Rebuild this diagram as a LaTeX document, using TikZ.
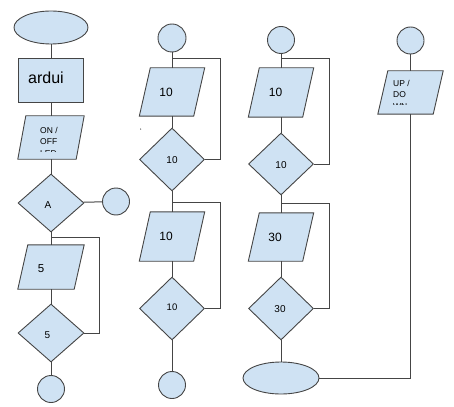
\documentclass[tikz,border=0pt]{standalone}
\usepackage{fontspec}
\setmainfont{Liberation Sans}
\usetikzlibrary{shapes.geometric}
\pgfdeclarelayer{background}
\pgfsetlayers{background,main}
\definecolor{shapefill}{HTML}{CFE2F3}
\definecolor{linecol}{HTML}{454545}
\tikzset{
  base/.style={draw=linecol, fill=shapefill, line width=0.9pt, inner sep=0pt},
  terminal/.style={base, ellipse},
  conn/.style={base, circle, minimum size=27pt},
  procbox/.style={base, rectangle},
  decide/.style={base, diamond, minimum width=65pt},
  iobox/.style={rectangle, inner sep=0pt, minimum width=65pt},
  link/.style={draw=linecol, line width=1pt},
  big/.style={font=\fontsize{12}{14}\selectfont},
  small/.style={font=\fontsize{10}{12}\selectfont},
  tiny/.style={font=\fontsize{8.5}{11.5}\selectfont, inner sep=0pt, align=left, anchor=north west},
}
\newcommand\ioshape[2]{\draw[base] (#1.south west) -- ([xshift=-#2]#1.south east) -- (#1.north east) -- ([xshift=#2]#1.north west) -- cycle;}
\begin{document}
\begin{tikzpicture}[x=1pt,y=-1pt]
\useasboundingbox (0,0) rectangle (454,406);
% column 1
\node[terminal, minimum width=74pt, minimum height=33pt] (e1) at (51,27.5) {};
\node[procbox, minimum width=65pt, minimum height=44pt,
  label={[font=\fontsize{16}{18}\selectfont, xshift=-5pt, yshift=2pt]center:ardui}] (r1) at (51,80) {};
\node[iobox, minimum width=66pt, minimum height=43pt] (p1) at (51,137.5) {};
\node[decide, minimum width=66pt, minimum height=58pt,
  label={[small, xshift=-3pt, yshift=-2pt]center:A}] (d1) at (51,203) {};
\node[conn] (c1) at (116,201.5) {};
\node[iobox, minimum width=66pt, minimum height=44pt,
  label={[font=\fontsize{11.5}{13}\selectfont, xshift=-10pt, yshift=-2pt]center:5}] (p2) at (51,267) {};
\node[decide, minimum width=66pt, minimum height=58pt,
  label={[small, xshift=-3.5pt, yshift=-2pt]center:5}] (d2) at (51,333) {};
\node[conn] (c2) at (51,389) {};
% column 2
\node[conn, minimum size=28pt] (c3) at (172,38) {};
\node[iobox, minimum height=48pt, label={[big, xshift=-6pt]center:10}] (p3) at (172,92) {};
\node[decide, minimum height=63pt, label={[small, yshift=-0.5pt]center:10}] (d3) at (172,159.5) {};
\node[iobox, minimum height=49pt, label={[big, xshift=-6pt, yshift=0.5pt]center:10}] (p4) at (172,236.5) {};
\node[decide, minimum height=63pt, label={[font=\fontsize{9.5}{11}\selectfont, yshift=1.5pt]center:10}] (d4) at (172,308.5) {};
\node[conn] (c4) at (172,385) {};
\node[font=\fontsize{7}{8}\selectfont, inner sep=0pt] (tick) at (141,131) {`};
% column 3
\node[conn] (c5) at (281,40) {};
\node[iobox, minimum height=49pt, label={[big, xshift=-5.5pt]center:10}] (p5) at (281,92.5) {};
\node[decide, minimum height=62pt, label={[small, yshift=-1pt]center:10}] (d5) at (281,164) {};
\node[iobox, minimum height=48pt, label={[big, xshift=-6pt]center:30}] (p6) at (281,237) {};
\node[decide, minimum height=63pt, label={[small, xshift=-1pt, yshift=-0.5pt]center:30}] (d6) at (281,308.5) {};
\node[terminal, minimum width=76pt, minimum height=32pt] (e2) at (281,378) {};
% column 4
\node[conn] (c6) at (410.5,40.5) {};
\node[iobox, minimum height=43pt] (p7) at (410.5,92.5) {};
% parallelogram outlines
\begin{pgfonlayer}{background}
\ioshape{p1}{8pt}
\ioshape{p2}{10pt}
\ioshape{p3}{11pt}
\ioshape{p4}{11pt}
\ioshape{p5}{11pt}
\ioshape{p6}{11pt}
\ioshape{p7}{10pt}
\end{pgfonlayer}
% clipped texts
\begin{scope}
\clip (20,118) rectangle (84,151);
\node[tiny] (t1) at (40,127) {ON /\\OFF\\LED};
\end{scope}
\begin{scope}
\clip (385,73) rectangle (440,104.5);
\node[tiny] (t2) at (393,80) {UP /\\DO\\WN};
\end{scope}
% loop corners
\coordinate (j1) at (51,237);  \coordinate (k1) at (99,237);
\coordinate (j2) at (172,59);  \coordinate (k2) at (220,59);
\coordinate (j3) at (172,202); \coordinate (k3) at (220,202);
\coordinate (j4) at (281,59);  \coordinate (k4) at (329,59);
\coordinate (j5) at (281,203); \coordinate (k5) at (329,203);
% connectors
\draw[link] (e1) -- (r1);
\draw[link] (r1) -- (p1);
\draw[link] (p1) -- (d1);
\draw[link] (d1) -- (c1);
\draw[link] (d1) -- (p2);
\draw[link] (p2) -- (d2);
\draw[link] (d2) -- (c2);
\draw[link] (j1) -- (k1) |- (d2.east);
\draw[link] (c3) -- (p3);
\draw[link] (p3) -- (d3);
\draw[link] (d3) -- (p4);
\draw[link] (p4) -- (d4);
\draw[link] (d4) -- (c4);
\draw[link] (j2) -- (k2) |- (d3.east);
\draw[link] (j3) -- (k3) |- (d4.east);
\draw[link] (c5) -- (p5);
\draw[link] (p5) -- (d5);
\draw[link] (d5) -- (p6);
\draw[link] (p6) -- (d6);
\draw[link] (d6) -- (e2);
\draw[link] (j4) -- (k4) |- (d5.east);
\draw[link] (j5) -- (k5) |- (d6.east);
\draw[link] (c6) -- (p7);
\draw[link] (p7) |- (e2);
\end{tikzpicture}
\end{document}
